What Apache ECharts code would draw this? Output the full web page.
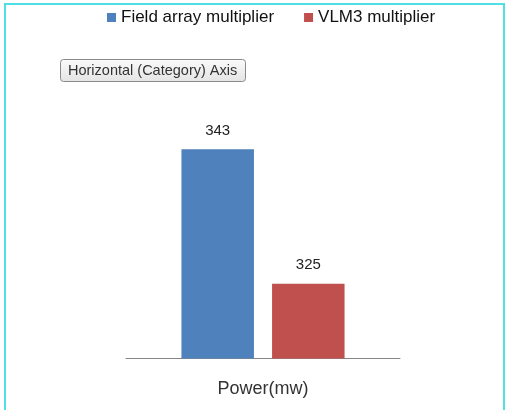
<!DOCTYPE html>
<html><head><meta charset="utf-8">
<script src="https://cdn.jsdelivr.net/npm/echarts@6/dist/echarts.min.js"></script>
<style>html,body{margin:0;padding:0;background:#fff}#c{width:507px;height:410px}</style>
</head><body><div id="c"></div>
<script>
const categories = ['Power(mw)'];
const seriesNames = ['Field array multiplier', 'VLM3 multiplier'];
const fieldArray = [343];
const vlm3 = [325];
const colors = ['#4f81bd', '#c0504d'];

const chart = echarts.init(document.getElementById('c'));
chart.setOption({
  animation: false,
  title: {
    text: 'Horizontal (Category) Axis',
    left: 60, top: 59,
    padding: [3, 9, 3, 8],
    borderColor: '#8a8a8a', borderWidth: 1, borderRadius: 3,
    backgroundColor: new echarts.graphic.LinearGradient(0, 0, 0, 1, [{offset: 0, color: '#fafafa'}, {offset: 1, color: '#e4e4e4'}]),
    textStyle: {fontFamily: 'Liberation Sans', fontSize: 14.5, fontWeight: 'normal', color: '#333', lineHeight: 17}
  },
  legend: {
    data: seriesNames,
    top: 9, left: 107, padding: 0,
    itemWidth: 9, itemHeight: 9, itemGap: 30,
    icon: 'rect',
    textStyle: {fontFamily: 'Liberation Sans', fontSize: 17, color: '#111'}
  },
  graphic: [{
    type: 'rect', shape: {x: 5, y: 4, width: 499, height: 430},
    style: {fill: 'none', stroke: '#4ee0e4', lineWidth: 2}, silent: true, z: 100
  }],
  grid: {left: 126, right: 107, top: 97, bottom: 51.5},
  xAxis: {
    type: 'category', data: categories,
    axisLine: {lineStyle: {color: '#868686', width: 1}},
    axisTick: {show: false},
    axisLabel: {fontFamily: 'Liberation Sans', fontSize: 18, color: '#333', margin: 22}
  },
  yAxis: {
    type: 'value', min: 315, max: 350, interval: 5,
    show: false, splitLine: {show: false}
  },
  series: [
    {name: seriesNames[0], type: 'bar', data: fieldArray, barWidth: 72.5, barGap: '25%',
     itemStyle: {color: colors[0]},
     label: {show: true, position: 'top', distance: 11, fontFamily: 'Liberation Sans', fontSize: 15, color: '#222'}},
    {name: seriesNames[1], type: 'bar', data: vlm3, barWidth: 72.5,
     itemStyle: {color: colors[1]},
     label: {show: true, position: 'top', distance: 11, fontFamily: 'Liberation Sans', fontSize: 15, color: '#222'}}
  ]
});
</script></body></html>
